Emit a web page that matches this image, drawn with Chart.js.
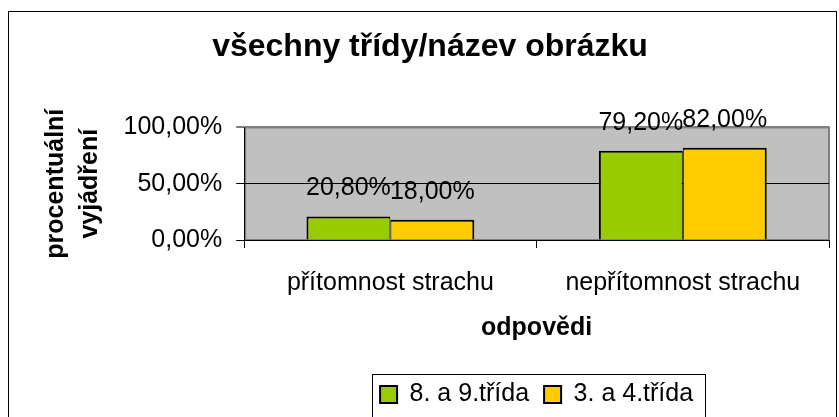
<!DOCTYPE html>
<html lang="cs">
<head>
<meta charset="utf-8">
<title>všechny třídy</title>
<script src="https://cdn.jsdelivr.net/npm/chart.js@4.4.0/dist/chart.umd.min.js"></script>
<style>
  html, body { margin: 0; padding: 0; background: #fff; }
  #obal { width: 839px; height: 417px; }
</style>
</head>
<body>
<div id="obal"><canvas id="graf" width="839" height="417"></canvas></div>
<script>
// data
const kategorie = ["přítomnost strachu", "nepřítomnost strachu"];
const nazvySerii = ["8. a 9.třída", "3. a 4.třída"];
const trida89 = [20.8, 79.2];
const trida34 = [18.0, 82.0];
const hodnotyOsy = [0, 50, 100];

const PISMO = '"Liberation Sans", Arial, sans-serif';

// 20.8 -> "20,80%"
function procenta(v) {
    return v.toFixed(2).replace(".", ",") + "%";
}

// šedé pozadí grafu + rámeček kolem celého obrázku
const pozadi = {
    id: "pozadi",
    beforeDraw(chart) {
        const { ctx, chartArea: a } = chart;
        ctx.save();
        ctx.fillStyle = "#fff";
        ctx.fillRect(0, 0, chart.width, chart.height);
        ctx.strokeStyle = "#000";
        ctx.lineWidth = 1;
        ctx.strokeRect(8.5, 11.5, 828, 420);
        ctx.fillStyle = "#c0c0c0";
        ctx.fillRect(a.left, a.top, a.right - a.left, a.bottom - a.top);
        ctx.strokeStyle = "#808080";
        ctx.lineWidth = 2;
        ctx.strokeRect(a.left + 1, a.top, a.right - a.left - 1, a.bottom - a.top);
        ctx.restore();
    }
};

// hodnoty nad sloupci
const popisky = {
    id: "popisky",
    afterDatasetsDraw(chart) {
        const ctx = chart.ctx;
        ctx.save();
        ctx.font = "25px " + PISMO;
        ctx.fillStyle = "#000";
        ctx.textAlign = "center";
        ctx.textBaseline = "middle";
        chart.data.datasets.forEach((ds, i) => {
            chart.getDatasetMeta(i).data.forEach((bar, j) => {
                ctx.fillText(procenta(ds.data[j]), bar.x, bar.y - 28);
            });
        });
        ctx.restore();
    }
};

// rámeček legendy
const ramecekLegendy = {
    id: "ramecekLegendy",
    afterDraw(chart) {
        const boxy = chart.legend.legendHitBoxes;
        if (!boxy || !boxy.length) return;
        const prvni = boxy[0], posledni = boxy[boxy.length - 1];
        const x1 = Math.round(prvni.left - 8) + 0.5;
        const x2 = Math.round(posledni.left + posledni.width + 12) + 0.5;
        const y1 = Math.round(prvni.top - 8) + 0.5;
        const y2 = Math.round(prvni.top + prvni.height + 10) + 0.5;
        const ctx = chart.ctx;
        ctx.save();
        ctx.strokeStyle = "#000";
        ctx.lineWidth = 1;
        ctx.strokeRect(x1, y1, x2 - x1, y2 - y1);
        ctx.restore();
    }
};

new Chart(document.getElementById("graf"), {
    type: "bar",
    data: {
        labels: kategorie,
        datasets: [
            {
                label: nazvySerii[0],
                data: trida89,
                backgroundColor: "#99cc00",
                borderColor: "#000",
                borderWidth: { top: 2, left: 2, right: 1, bottom: 2 }
            },
            {
                label: nazvySerii[1],
                data: trida34,
                backgroundColor: "#ffcc00",
                borderColor: "#000",
                borderWidth: { top: 2, left: 1, right: 2, bottom: 2 }
            }
        ]
    },
    options: {
        responsive: false,
        animation: false,
        events: [],
        datasets: { bar: { categoryPercentage: 0.574, barPercentage: 1 } },
        layout: { padding: { left: 31, right: 10, top: 0, bottom: 0 } },
        plugins: {
            title: {
                display: true,
                text: "všechny třídy/název obrázku",
                color: "#000",
                font: { family: PISMO, size: 32, weight: "bold" },
                padding: { top: 28, bottom: 61 }
            },
            legend: {
                position: "bottom",
                fullSize: false,
                labels: {
                    color: "#000",
                    font: { family: PISMO, size: 25 },
                    boxWidth: 17,
                    boxHeight: 17,
                    padding: 15,
                    generateLabels(chart) {
                        return Chart.defaults.plugins.legend.labels.generateLabels(chart)
                            .map(p => Object.assign(p, { lineWidth: 2, strokeStyle: "#000" }));
                    }
                }
            },
            tooltip: { enabled: false }
        },
        scales: {
            x: {
                grid: { offset: true, drawOnChartArea: false, tickLength: 8, color: "#000" },
                border: { color: "#000", width: 1 },
                ticks: { color: "#000", padding: 20, font: { family: PISMO, size: 25 } },
                title: {
                    display: true,
                    text: "odpovědi",
                    color: "#000",
                    font: { family: PISMO, size: 25, weight: "bold" },
                    padding: { top: -5, bottom: 24 }
                }
            },
            y: {
                min: hodnotyOsy[0],
                max: hodnotyOsy[hodnotyOsy.length - 1],
                afterBuildTicks(axis) {
                    axis.ticks = hodnotyOsy.map(v => ({ value: v }));
                },
                grid: {
                    color: c => (c.tick && c.tick.value === 100 ? "#808080" : "#000"),
                    lineWidth: c => (c.tick && c.tick.value === 100 ? 2 : 1),
                    tickColor: "#000",
                    tickWidth: 1,
                    tickLength: 8
                },
                border: { color: "#000", width: 1 },
                ticks: {
                    color: "#000",
                    padding: 14,
                    font: { family: PISMO, size: 25 },
                    callback: v => procenta(v)
                },
                title: {
                    display: true,
                    text: ["procentuální", "vyjádření"],
                    color: "#000",
                    font: { family: PISMO, size: 25, weight: "bold", lineHeight: 1.35 },
                    padding: { top: 8, bottom: 3 }
                }
            }
        }
    },
    plugins: [pozadi, popisky, ramecekLegendy]
});
</script>
</body>
</html>
